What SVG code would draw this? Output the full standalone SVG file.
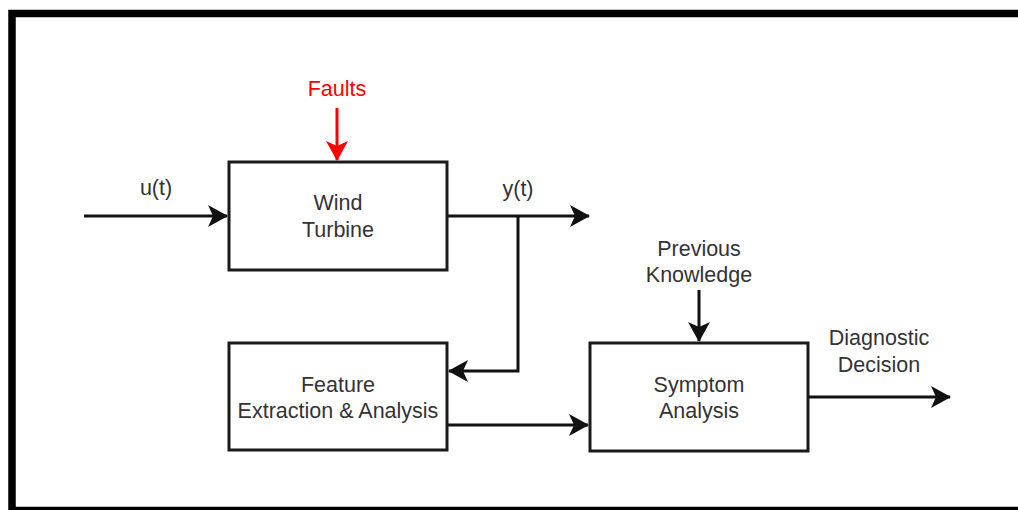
<svg xmlns="http://www.w3.org/2000/svg" width="1018" height="510" viewBox="0 0 1018 510">
  <style>
    .box { fill: #ffffff; stroke: #1a1a1a; stroke-width: 3; }
    .wire { fill: none; stroke: #111111; stroke-width: 3; }
    .fault { fill: none; stroke: #ff0000; stroke-width: 3; }
    .lbl { font-family: "Liberation Sans", Arial, sans-serif; font-size: 21.5px; fill: #333333; text-anchor: middle; }
    .red { fill: #ff0000; }
  </style>
  <defs>
    <marker id="arr" viewBox="0 0 20 22" refX="19" refY="11" markerWidth="20" markerHeight="22" markerUnits="userSpaceOnUse" orient="auto">
      <path d="M0,0 L20,11 L0,22 L5,11 Z" fill="#111111"/>
    </marker>
    <marker id="arrRed" viewBox="0 0 20 22" refX="19" refY="11" markerWidth="20" markerHeight="22" markerUnits="userSpaceOnUse" orient="auto">
      <path d="M0,0 L20,11 L0,22 L5,11 Z" fill="#ff0000"/>
    </marker>
  </defs>

  <!-- outer frame -->
  <rect x="0" y="0" width="1018" height="510" fill="#ffffff"/>
  <rect x="12" y="13.5" width="1015" height="497" fill="none" stroke="#000000" stroke-width="7.5"/>

  <!-- connectors -->
  <g id="connectors">
    <path class="fault" d="M337,108 L337,160" marker-end="url(#arrRed)"/>
    <path class="wire" d="M84,216 L227,216" marker-end="url(#arr)"/>
    <path class="wire" d="M447,216 L589,216" marker-end="url(#arr)"/>
    <path class="wire" d="M518,216 L518,371 L449,371" marker-end="url(#arr)"/>
    <path class="wire" d="M447,425 L588,425" marker-end="url(#arr)"/>
    <path class="wire" d="M699,290 L699,341" marker-end="url(#arr)"/>
    <path class="wire" d="M808,397 L950,397" marker-end="url(#arr)"/>
  </g>

  <!-- free labels -->
  <g id="labels">
    <text class="lbl red" x="337" y="96">Faults</text>
    <text class="lbl" x="156" y="195">u(t)</text>
    <text class="lbl" x="518" y="196">y(t)</text>
    <text class="lbl" x="699" y="256">Previous</text>
    <text class="lbl" x="699" y="282">Knowledge</text>
    <text class="lbl" x="879" y="345">Diagnostic</text>
    <text class="lbl" x="879" y="372">Decision</text>
  </g>

  <g id="wind-turbine">
    <rect class="box" x="229" y="162" width="218" height="108"/>
    <text class="lbl" x="338" y="210">Wind</text>
    <text class="lbl" x="338" y="237">Turbine</text>
  </g>

  <g id="feature-extraction">
    <rect class="box" x="229" y="343" width="218" height="107"/>
    <text class="lbl" x="338" y="392">Feature</text>
    <text class="lbl" x="338" y="418">Extraction &amp; Analysis</text>
  </g>

  <g id="symptom-analysis">
    <rect class="box" x="590" y="343" width="218" height="108"/>
    <text class="lbl" x="699" y="392">Symptom</text>
    <text class="lbl" x="699" y="418">Analysis</text>
  </g>
</svg>
